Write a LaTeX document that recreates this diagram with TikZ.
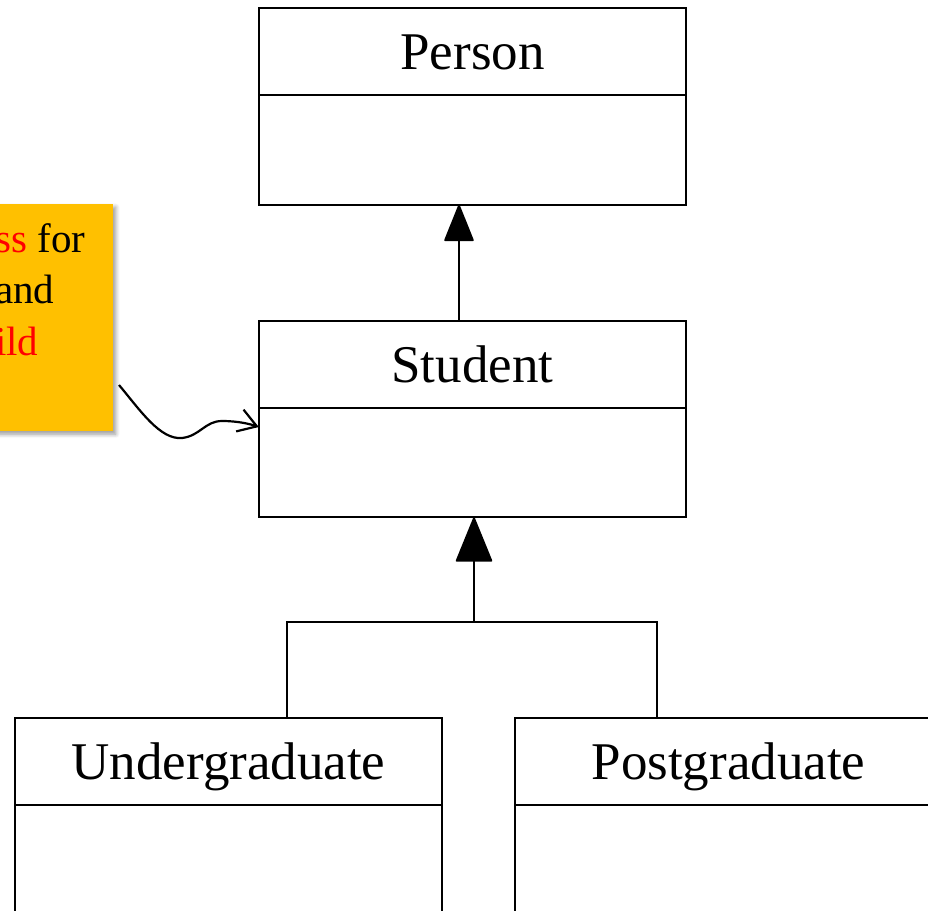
\documentclass[tikz,border=0pt]{standalone}
\usepackage{fontspec}
\setmainfont{Liberation Serif}
\usetikzlibrary{arrows.meta,shadows.blur,calc}
\definecolor{noteorange}{HTML}{FFC000}
\begin{document}
\begin{tikzpicture}[x=1pt,y=-1pt,
  classhead/.style={draw,line width=2pt,minimum width=427pt,minimum height=87pt,inner sep=0pt,
    text height=36pt,text depth=0pt,font=\fontsize{53}{60}\selectfont},
  classbody/.style={minimum width=427pt,minimum height=108.5pt,inner sep=0pt,anchor=north},
  bodyedge/.style={line width=2pt},
  link/.style={line width=2pt},
  inhsmall/.style={link,-{Triangle[width=30pt,length=38pt,round]}},
  inhbig/.style={link,-{Triangle[width=37pt,length=46pt,round]}},
  notebox/.style={fill=noteorange,inner sep=0pt,minimum width=200pt,minimum height=227pt,anchor=north east,
    blur shadow={shadow xshift=3pt,shadow yshift=-3pt,shadow blur radius=4pt,shadow blur steps=6}},
  notetext/.style={align=left,inner sep=0pt,anchor=base west,font=\fontsize{41}{51.5}\selectfont},
  notelink/.style={line width=2.2pt,-{Straight Barb[length=18pt,width=23pt,line width=2.2pt]}}
]
\useasboundingbox (0,0) rectangle (928,910);
\clip (0,0) rectangle (928,910);

% Person
\node[classhead] (phead) at (472.5,51.5) {Person};
\node[classbody] (pbody) at (phead.south) {};
\draw[bodyedge] (pbody.north west) |- (pbody.south east) -- (pbody.north east);
% Student
\node[classhead] (shead) at (472.5,364) {Student};
\node[classbody] (sbody) at (shead.south) {};
\draw[bodyedge] (sbody.north west) |- (sbody.south east) -- (sbody.north east);
% Undergraduate
\node[classhead] (uhead) at (228.5,761.5) {Undergraduate};
\node[classbody] (ubody) at (uhead.south) {};
\draw[bodyedge] (ubody.north west) |- (ubody.south east) -- (ubody.north east);
% Postgraduate
\node[classhead] (ghead) at (728.5,761.5) {Postgraduate};
\node[classbody] (gbody) at (ghead.south) {};
\draw[bodyedge] (gbody.north west) |- (gbody.south east) -- (gbody.north east);

% Note
\node[notebox] (note) at (113,204) {};
\node[notetext] (ntext) at (-5,355) {\textcolor{red}{ss} for\\and\\\textcolor{red}{ild}};

% Inheritance Student -> Person
\draw[inhsmall] ([xshift=-13.5pt]shead.north) -- ([xshift=-13.5pt]pbody.south);

% Inheritance sub classes -> Student
\coordinate (j) at (474,622);
\draw[link] ([xshift=58.5pt]uhead.north) |- (j) -| ([xshift=-71.5pt]ghead.north);
\draw[inhbig] (j) -- (j |- sbody.south);

% Note connector
\coordinate (nstart) at (119,385);
\draw[notelink] (nstart) .. controls (140,410) and (160,440) .. (182,438)
  .. controls (200,436) and (205,421) .. (222,421)
  .. controls (238,421) and (250,424) .. ([yshift=-18.5pt]sbody.north west);
\end{tikzpicture}
\end{document}
